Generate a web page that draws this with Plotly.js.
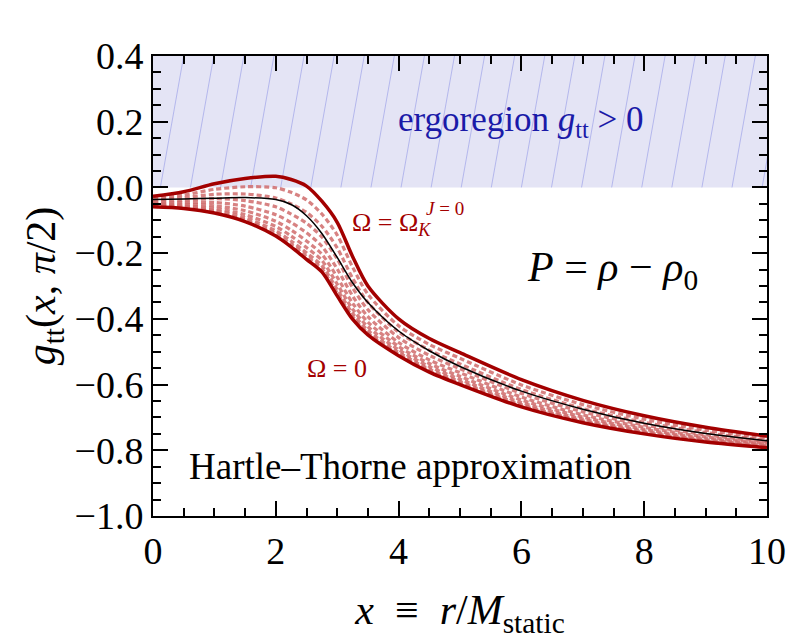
<!DOCTYPE html>
<html><head><meta charset="utf-8">
<script src="https://cdn.plot.ly/plotly-3.0.1.min.js"></script>
</head><body style="margin:0;padding:0;background:#fff">
<div id="chart" style="width:789px;height:642px"></div>
<script>
// x = r / M_static
const xGrid = [0, 0.5, 1, 1.5, 2, 2.25, 2.5, 2.75, 3, 3.25, 3.5, 4, 4.5, 5, 6, 7, 8, 9, 10];
// Omega = 0 (lower solid)
const gttOmega0 = [-0.059, -0.064, -0.078, -0.104, -0.148, -0.181, -0.219, -0.257, -0.330, -0.401, -0.449, -0.512, -0.562, -0.600, -0.668, -0.716, -0.750, -0.775, -0.792];
// Omega = Omega_K^{J=0} (upper solid)
const gttOmegaK = [-0.027, -0.013, 0.011, 0.027, 0.034, 0.024, 0.004, -0.042, -0.106, -0.210, -0.300, -0.400, -0.460, -0.503, -0.585, -0.648, -0.695, -0.730, -0.757];
// thin black reference curve
const gttBlack = [-0.037, -0.035, -0.033, -0.031, -0.037, -0.052, -0.086, -0.140, -0.213, -0.290, -0.350, -0.437, -0.497, -0.545, -0.620, -0.675, -0.718, -0.749, -0.771];
// intermediate rotation rates (dashed)
const gttDash1 = [-0.033, -0.023, -0.006, 0.002, -0.001, -0.015, -0.038, -0.081, -0.145, -0.242, -0.325, -0.421, -0.478, -0.520, -0.601, -0.661, -0.705, -0.739, -0.764];
const gttDash2 = [-0.039, -0.031, -0.021, -0.020, -0.032, -0.050, -0.076, -0.118, -0.184, -0.276, -0.350, -0.440, -0.495, -0.537, -0.615, -0.673, -0.715, -0.746, -0.770];
const gttDash3 = [-0.043, -0.039, -0.034, -0.040, -0.059, -0.081, -0.109, -0.151, -0.218, -0.305, -0.372, -0.457, -0.511, -0.552, -0.627, -0.683, -0.723, -0.753, -0.775];
const gttDash4 = [-0.048, -0.046, -0.046, -0.057, -0.083, -0.107, -0.138, -0.179, -0.248, -0.330, -0.393, -0.472, -0.525, -0.564, -0.638, -0.692, -0.730, -0.759, -0.779];
const gttDash5 = [-0.051, -0.051, -0.056, -0.071, -0.103, -0.130, -0.163, -0.203, -0.273, -0.352, -0.410, -0.484, -0.536, -0.575, -0.647, -0.699, -0.736, -0.764, -0.783];
const gttDash6 = [-0.054, -0.056, -0.064, -0.083, -0.119, -0.148, -0.183, -0.222, -0.294, -0.370, -0.424, -0.494, -0.545, -0.584, -0.655, -0.705, -0.741, -0.768, -0.786];
const gttDash7 = [-0.056, -0.059, -0.070, -0.092, -0.132, -0.163, -0.199, -0.238, -0.310, -0.383, -0.435, -0.502, -0.553, -0.591, -0.661, -0.710, -0.745, -0.771, -0.789];
const gttDash8 = [-0.058, -0.062, -0.074, -0.099, -0.141, -0.173, -0.210, -0.248, -0.321, -0.393, -0.443, -0.508, -0.558, -0.596, -0.665, -0.713, -0.748, -0.773, -0.791];
const dashedSeries = [gttDash1, gttDash2, gttDash3, gttDash4, gttDash5, gttDash6, gttDash7, gttDash8];

const xRange = [0, 10];
const yRange = [-1.0, 0.4];
const ergoBottom = 0;
const ergoTop = 0.4;

const darkRed = '#a30000';
const dashRed = 'rgba(208,108,108,0.85)';

// hatch lines of the ergoregion
const hatchX = [], hatchY = [];
for (let b = 0.12; b < 10.2; b += 0.49) {
  hatchX.push(b, b + 0.38, null);
  hatchY.push(ergoBottom, ergoTop, null);
}

const traces = [];
traces.push({x: hatchX, y: hatchY, mode: 'lines', line: {color: 'rgba(140,145,230,0.55)', width: 1}, hoverinfo: 'skip', showlegend: false});
dashedSeries.forEach(s => traces.push({x: xGrid, y: s, mode: 'lines', line: {color: dashRed, width: 3.2, dash: '5px,3px', shape: 'spline', smoothing: 0.8}, showlegend: false}));
traces.push({x: xGrid, y: gttBlack, mode: 'lines', line: {color: '#000', width: 1.5, shape: 'spline', smoothing: 0.8}, showlegend: false});
traces.push({x: xGrid, y: gttOmega0, mode: 'lines', line: {color: darkRed, width: 3.5, shape: 'spline', smoothing: 0.8}, showlegend: false});
traces.push({x: xGrid, y: gttOmegaK, mode: 'lines', line: {color: darkRed, width: 3.5, shape: 'spline', smoothing: 0.8}, showlegend: false});

const layout = {
  width: 789, height: 642,
  margin: {l: 153, r: 22, t: 56, b: 126},
  paper_bgcolor: '#fff', plot_bgcolor: '#fff',
  font: {family: 'Liberation Serif', size: 24, color: '#000'},
  showlegend: false,
  hovermode: false,
  xaxis: {
    range: xRange, dtick: 2, tick0: 0,
    showline: true, linewidth: 2, linecolor: '#000', mirror: 'ticks',
    ticks: 'inside', ticklen: 15, tickwidth: 2, tickcolor: '#000',
    showgrid: false, zeroline: false,
    tickfont: {size: 38},
    minor: {dtick: 0.5, ticks: 'inside', ticklen: 8, tickwidth: 2, tickcolor: '#000', showgrid: false},
    title: {text: '<i>x</i>&nbsp; ≡ &nbsp;<i>r</i>/<i>M</i><sub>static</sub>', font: {size: 42}, standoff: 24}
  },
  yaxis: {
    range: yRange, dtick: 0.2, tick0: 0, tickformat: '.1f',
    showline: true, linewidth: 2, linecolor: '#000', mirror: 'ticks',
    ticks: 'inside', ticklen: 15, tickwidth: 2, tickcolor: '#000',
    showgrid: false, zeroline: false,
    tickfont: {size: 38},
    minor: {dtick: 0.05, ticks: 'inside', ticklen: 8, tickwidth: 2, tickcolor: '#000', showgrid: false},
    title: {text: '<i>g</i><sub>tt</sub>(<i>x</i>, <i>π</i>/2)', font: {size: 42}, standoff: 6}
  },
  shapes: [{type: 'rect', xref: 'x', yref: 'y', x0: xRange[0], x1: xRange[1], y0: ergoBottom, y1: ergoTop, fillcolor: 'rgb(228,228,245)', line: {width: 0}, layer: 'below'}],
  annotations: [
    {x: 6.0, y: 0.2, xref: 'x', yref: 'y', text: 'ergoregion <i>g</i><sub>tt</sub> > 0', showarrow: false, font: {size: 35, color: '#1a1aa8'}},
    {x: 3.21, y: -0.11, xref: 'x', yref: 'y', xanchor: 'left', text: 'Ω = Ω<sub><i>K</i></sub>', showarrow: false, font: {size: 26, color: darkRed}},
    {x: 4.42, y: -0.065, xref: 'x', yref: 'y', xanchor: 'left', text: '<i>J</i> = 0', showarrow: false, font: {size: 19, color: darkRed}},
    {x: 7.48, y: -0.25, xref: 'x', yref: 'y', text: '<i>P</i> = <i>ρ</i> − <i>ρ</i><sub>0</sub>', showarrow: false, font: {size: 42}},
    {x: 3.0, y: -0.55, xref: 'x', yref: 'y', text: 'Ω = 0', showarrow: false, font: {size: 26, color: darkRed}},
    {x: 4.2, y: -0.85, xref: 'x', yref: 'y', text: 'Hartle–Thorne approximation', showarrow: false, font: {size: 37}}
  ]
};

Plotly.newPlot('chart', traces, layout, {displayModeBar: false});
</script></body></html>
